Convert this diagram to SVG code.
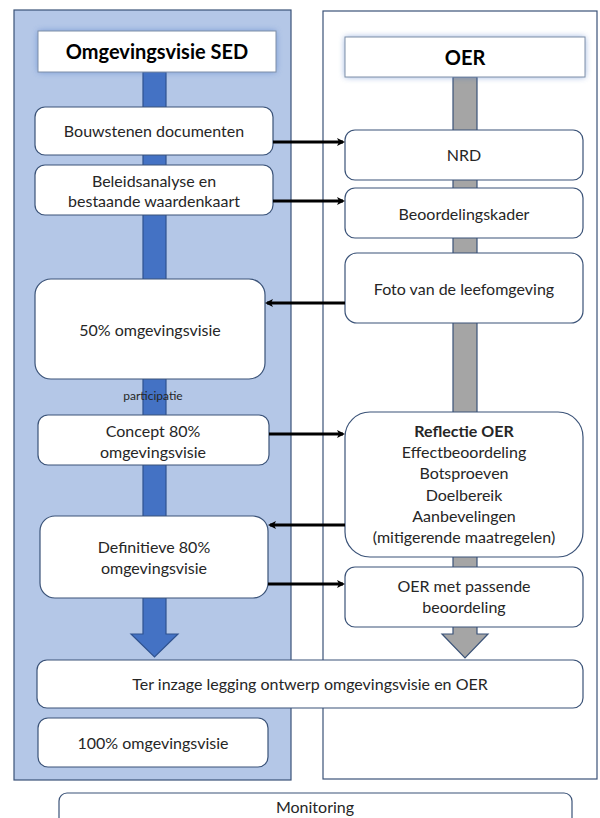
<svg xmlns="http://www.w3.org/2000/svg" width="600" height="818" viewBox="0 0 600 818">
<style>
.panel{stroke:#3b5378;stroke-width:1.2}
.box{fill:#fff;stroke:#3b5378;stroke-width:1.2}
.t{font-family:Lato,"Liberation Sans",sans-serif;font-size:16px;fill:#262626;text-anchor:middle}
.b{font-weight:bold}
.title{font-size:20px;fill:#000}
.small{font-size:12px}
.conn{stroke:#000;stroke-width:3;fill:none}
</style>
<defs>
<filter id="glow" x="-20%" y="-50%" width="140%" height="200%"><feGaussianBlur stdDeviation="3"/></filter>
<marker id="ah" markerWidth="8" markerHeight="8" refX="6" refY="4" orient="auto" markerUnits="userSpaceOnUse" viewBox="0 0 8 8"><path d="M0,0 L8,4 L0,8 L2,4 Z" fill="#000"/></marker>
</defs>
<rect class="panel" x="14" y="10" width="277" height="770" fill="#b4c7e7"/>
<rect class="panel" x="323" y="11" width="274" height="768" fill="#fff"/>
<g id="bar-left"><path d="M143,72 H166 V634 H178 L154.5,657 L131,634 H143 Z" fill="#4472c4" stroke="#2f528f" stroke-width="1.2"/></g>
<g id="bar-right"><path d="M453,77 H477 V634 H488 L465,658 L442,634 H453 Z" fill="#a5a5a5" stroke="#3b5378" stroke-width="1.2"/></g>
<g id="title-left"><rect x="38" y="31" width="238" height="41" fill="#4472c4" opacity="0.6" filter="url(#glow)"/><rect x="38" y="31" width="238" height="41" fill="#fff" stroke="#7f8fa8" stroke-width="1"/><text class="t b title" x="157" y="59">Omgevingsvisie SED</text></g>
<g id="title-right"><rect x="345" y="37" width="240" height="40" fill="#4472c4" opacity="0.6" filter="url(#glow)"/><rect x="345" y="37" width="240" height="40" fill="#fff" stroke="#7f8fa8" stroke-width="1"/><text class="t b title" x="465" y="65">OER</text></g>
<g id="bouwstenen"><rect class="box" x="35" y="107" width="238" height="48" rx="10"/><text class="t" x="154" y="137">Bouwstenen documenten</text></g>
<g id="beleidsanalyse"><rect class="box" x="35" y="165" width="238" height="50" rx="10"/><text class="t" x="154" y="187">Beleidsanalyse en</text><text class="t" x="154" y="207">bestaande waardenkaart</text></g>
<g id="visie50"><rect class="box" x="35" y="279" width="230" height="100" rx="16"/><text class="t" x="150" y="336">50% omgevingsvisie</text></g>
<g id="participatie"><text class="t small" x="153" y="400">participatie</text></g>
<g id="concept80"><rect class="box" x="38" y="415" width="231" height="50" rx="10"/><text class="t" x="153" y="437">Concept 80%</text><text class="t" x="153" y="458">omgevingsvisie</text></g>
<g id="definitief80"><rect class="box" x="40" y="516" width="228" height="82" rx="15"/><text class="t" x="154" y="553">Definitieve 80%</text><text class="t" x="154" y="574">omgevingsvisie</text></g>
<g id="nrd"><rect class="box" x="345" y="130" width="238" height="50" rx="10"/><text class="t" x="464" y="161">NRD</text></g>
<g id="beoordelingskader"><rect class="box" x="345" y="188" width="238" height="50" rx="10"/><text class="t" x="464" y="220">Beoordelingskader</text></g>
<g id="foto"><rect class="box" x="345" y="253" width="238" height="70" rx="12"/><text class="t" x="464" y="295">Foto van de leefomgeving</text></g>
<g id="reflectie"><rect class="box" x="345" y="412" width="238" height="145" rx="25"/><text class="t b" x="464" y="437">Reflectie OER</text><text class="t" x="464" y="458">Effectbeoordeling</text><text class="t" x="464" y="479">Botsproeven</text><text class="t" x="464" y="501">Doelbereik</text><text class="t" x="464" y="522">Aanbevelingen</text><text class="t" x="464" y="543">(mitigerende maatregelen)</text></g>
<g id="oer-passend"><rect class="box" x="345" y="567" width="238" height="60" rx="10"/><text class="t" x="464" y="592">OER met passende</text><text class="t" x="464" y="613">beoordeling</text></g>
<g id="ter-inzage"><rect class="box" x="37" y="660" width="546" height="48" rx="10"/><text class="t" x="310" y="690">Ter inzage legging ontwerp omgevingsvisie en OER</text></g>
<g id="visie100"><rect class="box" x="38" y="718" width="230" height="49" rx="10"/><text class="t" x="153" y="749">100% omgevingsvisie</text></g>
<g id="monitoring"><rect class="box" x="59" y="793" width="513" height="40" rx="8"/><text class="t" x="315" y="813">Monitoring</text></g>
<g id="connectors">
<line class="conn" x1="273" y1="142" x2="343" y2="142" marker-end="url(#ah)"/>
<line class="conn" x1="273" y1="201" x2="343" y2="201" marker-end="url(#ah)"/>
<line class="conn" x1="345" y1="303" x2="267" y2="303" marker-end="url(#ah)"/>
<line class="conn" x1="269" y1="434" x2="343" y2="434" marker-end="url(#ah)"/>
<line class="conn" x1="345" y1="525" x2="270" y2="525" marker-end="url(#ah)"/>
<line class="conn" x1="268" y1="584" x2="343" y2="584" marker-end="url(#ah)"/>
</g>
</svg>
